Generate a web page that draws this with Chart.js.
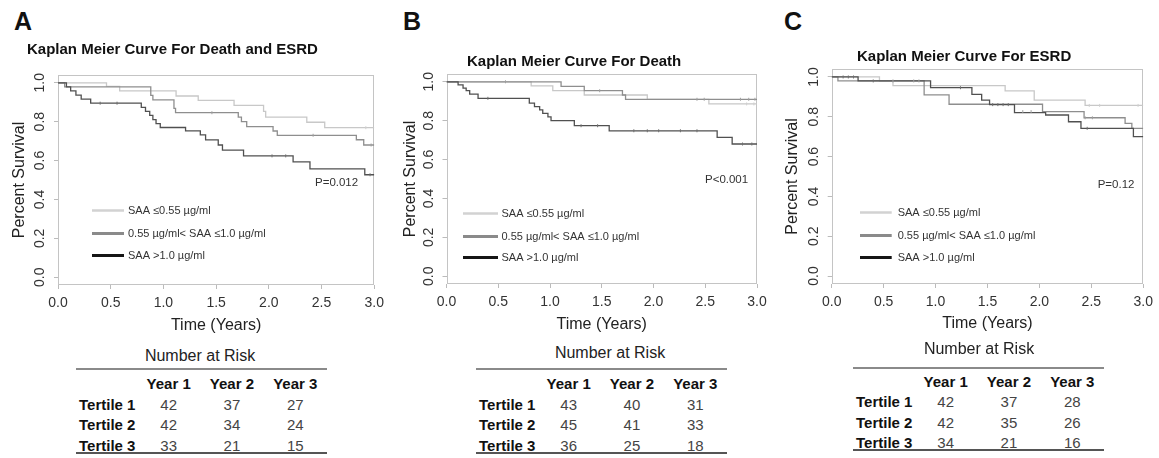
<!DOCTYPE html>
<html>
<head>
<meta charset="utf-8">
<title>Kaplan Meier curves by SAA tertile</title>
<script src="https://cdn.jsdelivr.net/npm/chart.js@4.4.1/dist/chart.umd.min.js"></script>
<style>
  body { margin: 0; background: #fff; }
  #page { position: relative; width: 1159px; height: 458px; overflow: hidden;
          font-family: "Liberation Sans", Arial, sans-serif; color: #111; }
  #page canvas { position: absolute; }
  .txt { position: absolute; white-space: nowrap; line-height: 1; }
  .letter { font-size: 25px; font-weight: bold; }
  .title { font-size: 15px; font-weight: bold; }
  .risk { font-size: 16px; color: #222; text-align: center; width: 200px; }
  .nar { position: absolute; width: 251px; height: 90px; font-size: 15px; }
  .nar .rule { position: absolute; left: 0; width: 251px; }
  .nar .cell { position: absolute; line-height: 1; white-space: nowrap; }
  .nar .head, .nar .name { font-weight: bold; color: #111; }
  .nar .num { color: #444; }
  .nar .head, .nar .num { text-align: center; width: 63.3px; }
</style>
</head>
<body>
<div id="page">
  <canvas id="chartA" width="390" height="290" style="left:0;top:50px"></canvas>
  <canvas id="chartB" width="390" height="290" style="left:390px;top:50px"></canvas>
  <canvas id="chartC" width="389" height="290" style="left:770px;top:50px"></canvas>
</div>
<script>
// ---- values ----
const panelLetters = ['A', 'B', 'C'];
const panelTitles = ['Kaplan Meier Curve For Death and ESRD', 'Kaplan Meier Curve For Death', 'Kaplan Meier Curve For ESRD'];
const pValues = ['P=0.012', 'P<0.001', 'P=0.12'];
const groupLabels = ['SAA \u22640.55 \u00b5g/ml', '0.55 \u00b5g/ml< SAA \u22641.0 \u00b5g/ml', 'SAA >1.0 \u00b5g/ml'];
const xTicks = [0, 0.5, 1, 1.5, 2, 2.5, 3];
const yTicks = [0, 0.2, 0.4, 0.6, 0.8, 1];

// survival steps: [time in years, survival after the drop]
const deathEsrdLow = [[0, 1], [0.46, 0.982], [0.585, 0.958], [1.12, 0.932], [1.33, 0.91], [1.67, 0.884], [1.95, 0.853], [1.97, 0.823], [2.36, 0.797], [2.53, 0.769], [3, 0.769]];
const deathEsrdMid = [[0, 1], [0.063, 0.979], [0.88, 0.935], [0.9, 0.912], [1.1, 0.868], [1.115, 0.846], [1.71, 0.823], [1.74, 0.8], [1.79, 0.775], [2.04, 0.752], [2.08, 0.73], [2.83, 0.707], [2.9, 0.68], [3, 0.68]];
const deathEsrdHigh = [[0, 1], [0.08, 0.979], [0.12, 0.958], [0.17, 0.937], [0.22, 0.916], [0.31, 0.895], [0.79, 0.874], [0.83, 0.853], [0.87, 0.832], [0.9, 0.811], [0.93, 0.79], [0.97, 0.77], [1.21, 0.753], [1.35, 0.732], [1.4, 0.706], [1.52, 0.68], [1.56, 0.654], [1.76, 0.624], [2.23, 0.593], [2.39, 0.557], [2.91, 0.527], [3, 0.527]];

const deathLow = [[0, 1], [0.818, 0.979], [1.027, 0.955], [1.331, 0.932], [1.94, 0.91], [2.535, 0.886], [3, 0.886]];
const deathMid = [[0, 1], [1.107, 0.976], [1.331, 0.954], [1.7, 0.932], [1.73, 0.91], [3, 0.91]];
const deathHigh = [[0, 1], [0.112, 0.984], [0.16, 0.967], [0.19, 0.954], [0.224, 0.937], [0.305, 0.915], [0.8, 0.89], [0.85, 0.872], [0.9, 0.855], [0.93, 0.838], [0.98, 0.82], [1.01, 0.8], [1.235, 0.774], [1.572, 0.748], [2.615, 0.714], [2.76, 0.68], [3, 0.68]];

const esrdLow = [[0, 1], [0.46, 0.979], [0.59, 0.956], [1.67, 0.93], [1.95, 0.884], [2.44, 0.857], [3, 0.857]];
const esrdMid = [[0, 1], [0.06, 0.98], [0.89, 0.91], [1.13, 0.863], [2.03, 0.826], [2.43, 0.795], [2.825, 0.767], [2.89, 0.742], [3, 0.742]];
const esrdHigh = [[0, 1], [0.254, 0.98], [0.952, 0.946], [1.35, 0.913], [1.444, 0.884], [1.52, 0.861], [1.76, 0.821], [2.06, 0.809], [2.28, 0.775], [2.4, 0.742], [2.905, 0.7], [3, 0.7]];

// censoring marks
const deathEsrdLowCens = [[2.92, 0.769]];
const deathEsrdMidCens = [[1.46, 0.846], [2.42, 0.73], [2.97, 0.68]];
const deathEsrdHighCens = [[0.4, 0.895], [0.56, 0.895], [2.03, 0.624], [2.16, 0.624], [2.96, 0.527]];
const deathLowCens = [[2.9, 0.886], [2.97, 0.886]];
const deathMidCens = [[0.57, 1], [1.48, 0.954], [2.42, 0.91], [2.49, 0.91], [2.84, 0.91], [2.92, 0.91], [2.98, 0.91]];
const deathHighCens = [[0.4, 0.915], [1.3, 0.774], [1.46, 0.774], [1.81, 0.748], [1.94, 0.748], [2.05, 0.748], [2.26, 0.748], [2.42, 0.748], [2.86, 0.68], [2.95, 0.68]];
const esrdLowCens = [[2.48, 0.857], [2.58, 0.857], [2.95, 0.857]];
const esrdMidCens = [[0.59, 0.98], [0.79, 0.98], [0.84, 0.98], [1.84, 0.826], [1.92, 0.826], [2.44, 0.795], [2.51, 0.795]];
const esrdHighCens = [[0.11, 1], [0.16, 1], [0.21, 1], [0.4, 0.98], [1.24, 0.946], [1.55, 0.861], [1.6, 0.861], [1.65, 0.861], [1.7, 0.861], [2.46, 0.742]];

// number at risk tables
const riskYears = ['Year 1', 'Year 2', 'Year 3'];
const riskGroups = ['Tertile 1', 'Tertile 2', 'Tertile 3'];
const riskDeathEsrd = [[42, 37, 27], [42, 34, 24], [33, 21, 15]];
const riskDeath = [[43, 40, 31], [45, 41, 33], [36, 25, 18]];
const riskEsrd = [[42, 37, 28], [42, 35, 26], [34, 21, 16]];

// ---- styles and layout ----
const lineColors = ['#c8c8c8', '#8e8e8e', '#505050'];
const censorColors = ['#d0d0d0', '#a0a0a0', '#707070'];
const legendColors = ['#d2d2d2', '#8a8a8a', '#151515'];
const legendWidths = [2.5, 3, 3];
const FONT = '"Liberation Sans", Arial, sans-serif';

const panels = [
  { canvas: 'chartA', curves: [deathEsrdLow, deathEsrdMid, deathEsrdHigh],
    censored: [deathEsrdLowCens, deathEsrdMidCens, deathEsrdHighCens], risk: riskDeathEsrd,
    padTop: 25, padRight: 14, yAxisW: 58, xAxisH: 55, yTitlePad: 10, xTitlePad: 4.6,
    key: { lineX: 34, lineLen: 32, textX: 70, rows: [135, 158, 180], pX: 257, pY: 108 },
    letter: [14, 9], title: [27, 41.3], riskTitle: [200, 348],
    table: { left: 76, top: 369, base: [20, 40.5, 61, 81.5], bottom: 84 } },
  { canvas: 'chartB', curves: [deathLow, deathMid, deathHigh],
    censored: [deathLowCens, deathMidCens, deathHighCens], risk: riskDeath,
    padTop: 24, padRight: 23, yAxisW: 56.5, xAxisH: 56, yTitlePad: 11, xTitlePad: 5.4,
    key: { lineX: 16.5, lineLen: 35, textX: 55, rows: [139, 161.7, 182.7], pX: 258.5, pY: 106 },
    letter: [403, 9], title: [467, 53], riskTitle: [610, 344.6],
    table: { left: 476, top: 369, base: [20, 40.5, 61, 81.5], bottom: 84 } },
  { canvas: 'chartC', curves: [esrdLow, esrdMid, esrdHigh],
    censored: [esrdLowCens, esrdMidCens, esrdHighCens], risk: riskEsrd,
    padTop: 19, padRight: 12.3, yAxisW: 61.7, xAxisH: 56, yTitlePad: 13, xTitlePad: 6.4,
    key: { lineX: 28.3, lineLen: 31.7, textX: 66, rows: [142.7, 166, 187.7], pX: 266, pY: 116 },
    letter: [784, 9], title: [857, 48], riskTitle: [979, 341],
    table: { left: 853, top: 368, base: [18.7, 38.7, 59.3, 79.3], bottom: 82 } }
];

// light grey frame round the plot region, like R's box()
const frame = {
  id: 'frame',
  beforeDatasetsDraw(chart) {
    const { ctx, chartArea: a } = chart;
    ctx.save();
    ctx.strokeStyle = '#c4c4c4';
    ctx.lineWidth = 1;
    const x0 = Math.round(a.left) + 0.5, y0 = Math.round(a.top) + 0.5;
    const x1 = Math.round(a.right) - 0.5, y1 = Math.round(a.bottom) - 0.5;
    ctx.strokeRect(x0, y0, x1 - x0, y1 - y0);
    ctx.restore();
  }
};

// legend and p value drawn inside the plot
const insideKey = {
  id: 'insideKey',
  afterDraw(chart, args, opts) {
    const { ctx, chartArea: a } = chart;
    ctx.save();
    ctx.textBaseline = 'middle';
    ctx.fillStyle = '#333';
    ctx.font = '11px ' + FONT;
    chart.data.datasets.filter(d => d.keyColor).forEach((d, i) => {
      const y = Math.round(a.top + opts.rows[i]) + 0.5;
      ctx.strokeStyle = d.keyColor;
      ctx.lineWidth = d.keyWidth;
      ctx.beginPath();
      ctx.moveTo(a.left + opts.lineX, y);
      ctx.lineTo(a.left + opts.lineX + opts.lineLen, y);
      ctx.stroke();
      ctx.fillText(d.label, a.left + opts.textX, y);
    });
    ctx.font = '11.5px ' + FONT;
    ctx.fillText(opts.pText, a.left + opts.pX, a.top + opts.pY);
    ctx.restore();
  }
};

function datasetsFor(p) {
  const sets = p.curves.map((pts, i) => ({
    label: groupLabels[i],
    data: pts.map(([x, y]) => ({ x, y })),
    stepped: 'before',
    borderColor: lineColors[i],
    borderWidth: 1.3,
    pointRadius: 0,
    order: 2 - i,
    keyColor: legendColors[i],
    keyWidth: legendWidths[i]
  }));
  p.censored.forEach((pts, i) => sets.push({
    label: groupLabels[i] + ' censored',
    data: pts.map(([x, y]) => ({ x, y })),
    showLine: false,
    pointStyle: 'line',
    pointRotation: 90,
    pointRadius: 1.5,
    pointBorderWidth: 1,
    pointBorderColor: censorColors[i],
    order: -1
  }));
  return sets;
}

function makeChart(p, idx) {
  const tickFont = { family: FONT, size: 14 };
  const titleFont = { family: FONT, size: 16 };
  return new Chart(document.getElementById(p.canvas), {
    type: 'line',
    data: { datasets: datasetsFor(p) },
    options: {
      responsive: false,
      animation: false,
      events: [],
      layout: { padding: { top: p.padTop, right: p.padRight, left: 0, bottom: 0 } },
      plugins: {
        legend: { display: false },
        tooltip: { enabled: false },
        insideKey: Object.assign({ pText: pValues[idx] }, p.key)
      },
      scales: {
        x: {
          type: 'linear', min: 0, max: 3,
          afterBuildTicks: s => { s.ticks = xTicks.map(v => ({ value: v })); },
          afterFit: s => { s.height = p.xAxisH; },
          ticks: { callback: v => Number(v).toFixed(1), font: tickFont, color: '#333', padding: 6, maxRotation: 0, autoSkip: false },
          grid: { drawOnChartArea: false, drawTicks: true, tickLength: 4, color: '#bbb' },
          border: { display: false },
          title: { display: true, text: 'Time (Years)', font: titleFont, color: '#222', padding: { top: 0, bottom: p.xTitlePad } }
        },
        y: {
          type: 'linear', min: -0.04, max: 1.04,
          afterBuildTicks: s => { s.ticks = yTicks.map(v => ({ value: v })); },
          afterFit: s => { s.width = p.yAxisW; },
          ticks: { callback: v => Number(v).toFixed(1), font: tickFont, color: '#333', padding: 4,
                   minRotation: 90, maxRotation: 90, crossAlign: 'center', autoSkip: false },
          grid: { drawOnChartArea: false, drawTicks: true, tickLength: 4, color: '#bbb' },
          border: { display: false },
          title: { display: true, text: 'Percent Survival', font: titleFont, color: '#222', padding: { top: p.yTitlePad, bottom: 0 } }
        }
      }
    },
    plugins: [frame, insideKey]
  });
}

function addText(cls, text, left, top) {
  const el = document.createElement('div');
  el.className = 'txt ' + cls;
  el.textContent = text;
  el.style.left = left + 'px';
  el.style.top = top + 'px';
  document.getElementById('page').appendChild(el);
  return el;
}

// number at risk table, one absolutely placed cell per value
function buildTable(p) {
  const t = p.table, nameW = 61, colW = 63.3, ascent = 12.7;
  const box = document.createElement('div');
  box.className = 'nar';
  box.style.left = t.left + 'px';
  box.style.top = t.top + 'px';
  const cell = (cls, text, left, base) => {
    const c = document.createElement('div');
    c.className = 'cell ' + cls;
    c.textContent = text;
    c.style.left = left + 'px';
    c.style.top = (base - ascent) + 'px';
    box.appendChild(c);
  };
  const rule = (top, h, color) => {
    const r = document.createElement('div');
    r.className = 'rule';
    r.style.top = top + 'px';
    r.style.height = h + 'px';
    r.style.background = color;
    box.appendChild(r);
  };
  rule(-0.75, 1.5, '#8a8a8a');
  riskYears.forEach((y, j) => cell('head', y, nameW + j * colW, t.base[0]));
  riskGroups.forEach((g, i) => {
    cell('name', g, 3, t.base[i + 1]);
    p.risk[i].forEach((n, j) => cell('num', n, nameW + j * colW, t.base[i + 1]));
  });
  rule(t.bottom - 1, 2, '#555');
  document.getElementById('page').appendChild(box);
}

panels.forEach((p, i) => {
  makeChart(p, i);
  addText('letter', panelLetters[i], p.letter[0], p.letter[1]);
  addText('title', panelTitles[i], p.title[0], p.title[1]);
  addText('risk', 'Number at Risk', p.riskTitle[0] - 100, p.riskTitle[1]);
  buildTable(p);
});
</script>
</body>
</html>
